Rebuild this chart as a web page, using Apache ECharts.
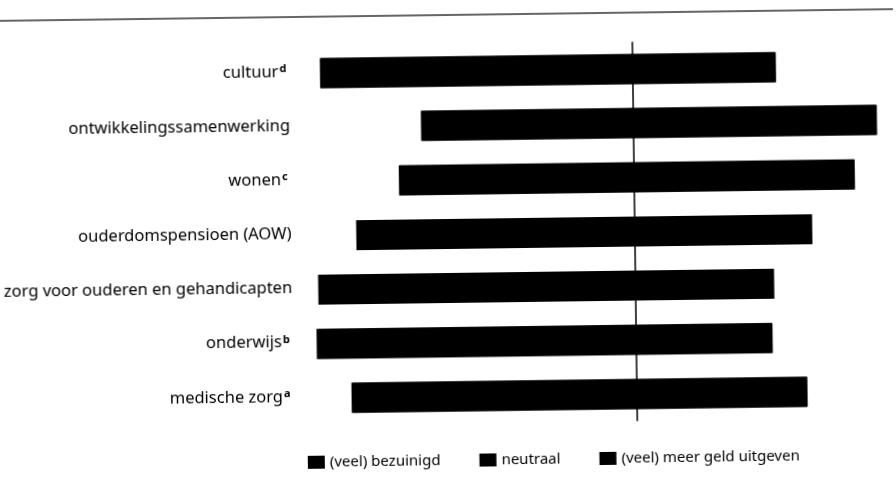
<!DOCTYPE html>
<html>
<head>
<meta charset="utf-8">
<script src="https://cdn.jsdelivr.net/npm/echarts@6/dist/echarts.min.js"></script>
<style>
  html, body { margin: 0; padding: 0; background: #fff; overflow: hidden; }
  #chart { width: 896px; height: 491px; transform: rotate(-0.75deg); transform-origin: 50% 50%; }
</style>
</head>
<body>
<div id="chart"></div>
<script>
// Spending preferences per policy area (percentages, each row sums to 100)
const categories = [
  'cultuur',
  'ontwikkelingssamenwerking',
  'wonen',
  'ouderdomspensioen (AOW)',
  'zorg voor ouderen en gehandicapten',
  'onderwijs',
  'medische zorg'
];
const footnotes = ['d', '', 'c', '', '', 'b', 'a'];

const bezuinigd    = [54, 31, 35, 47, 57, 58, 49];
const neutraal     = [29, 31, 33, 28, 25, 24, 27];
const meerUitgeven = [17, 38, 32, 25, 18, 18, 24];

const seriesNames = ['(veel) bezuinigd', 'neutraal', '(veel) meer geld uitgeven'];

// Diverging layout: the neutral share is split evenly around zero
const neutraalLinks  = neutraal.map(v => -v / 2);
const neutraalRechts = neutraal.map(v => v / 2);
const bezuinigdLinks = bezuinigd.map(v => -v);

const FONT = 'Noto Sans';
const BLACK = '#000000';
const TEXT = '#000000';

const chart = echarts.init(document.getElementById('chart'), null, { renderer: 'canvas' });

// A hard (unblurred) shadow nudged toward the centre closes the
// anti-aliasing seams between adjacent stacked segments.
function barSeries(name, data, towardCentre, extra) {
  return Object.assign({
    type: 'bar',
    name: name,
    data: data,
    stack: 'totaal',
    barWidth: 30,
    itemStyle: {
      color: BLACK,
      shadowColor: BLACK,
      shadowBlur: 0,
      shadowOffsetX: towardCentre * 0.9,
      shadowOffsetY: 0
    },
    emphasis: { disabled: true },
    silent: true
  }, extra || {});
}

chart.setOption({
  animation: false,
  backgroundColor: '#ffffff',
  grid: { left: 292.6, right: 10.6, top: 44.3, bottom: 67.5, containLabel: false },
  xAxis: {
    type: 'value',
    min: -75,
    max: 55,
    show: false
  },
  yAxis: {
    type: 'category',
    inverse: true,
    data: categories,
    axisLine: { show: false },
    axisTick: { show: false },
    splitLine: { show: false },
    axisLabel: {
      margin: 1,
      formatter: (value, idx) => footnotes[idx]
        ? '{t|' + value + '}{s|' + footnotes[idx] + '}'
        : '{t|' + value + '}',
      rich: {
        t: { fontFamily: FONT, fontSize: 16.5, color: TEXT, lineHeight: 20, padding: [0, 0, 3, 0] },
        s: { fontFamily: FONT, fontSize: 11, fontWeight: 'bold', color: TEXT, lineHeight: 16, verticalAlign: 'top', padding: [0, 3, 0, 1] }
      }
    }
  },
  legend: {
    data: seriesNames,
    left: 305,
    top: 453,
    padding: 0,
    icon: 'rect',
    itemWidth: 17,
    itemHeight: 13,
    itemGap: 39,
    selectedMode: false,
    itemStyle: { shadowBlur: 0, shadowOffsetX: 0, shadowColor: 'transparent' },
    textStyle: { fontFamily: FONT, fontSize: 15, color: TEXT }
  },
  graphic: [{
    type: 'line',
    shape: { x1: 0, y1: 15, x2: 896, y2: 15 },
    style: { stroke: '#333', lineWidth: 1.5 },
    silent: true
  }],
  series: [
    barSeries('neutraal', neutraalLinks, 1, {
      markLine: {
        silent: true,
        symbol: ['none', 'none'],
        label: { show: false },
        lineStyle: { color: BLACK, width: 1.5, type: 'solid', shadowColor: 'transparent', shadowOffsetX: 0 },
        data: [{ xAxis: 0 }]
      }
    }),
    barSeries('neutraal', neutraalRechts, -1),
    barSeries('(veel) bezuinigd', bezuinigdLinks, 1),
    barSeries('(veel) meer geld uitgeven', meerUitgeven, -1)
  ]
});
</script>
</body>
</html>
